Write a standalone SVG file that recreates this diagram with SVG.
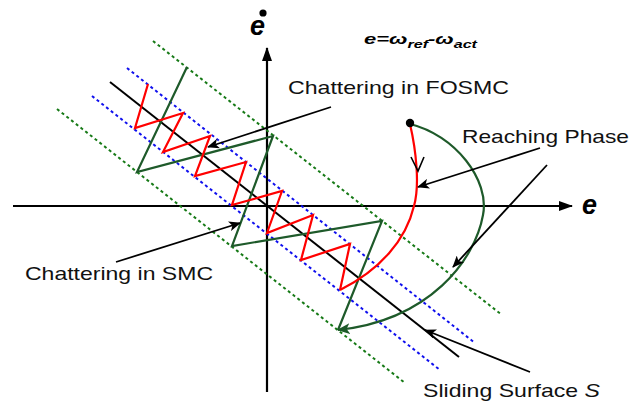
<svg xmlns="http://www.w3.org/2000/svg" width="630" height="403" viewBox="0 0 630 403">
<defs>
<marker id="ah" viewBox="0 0 12 10" refX="11" refY="5" markerWidth="12" markerHeight="10" markerUnits="userSpaceOnUse" orient="auto"><path d="M0,0 L12,5 L0,10 L3,5 Z" fill="#000"/></marker>
<marker id="axh" viewBox="0 0 14 10" refX="13" refY="5" markerWidth="14" markerHeight="10" markerUnits="userSpaceOnUse" orient="auto"><path d="M0,0 L14,5 L0,10 Z" fill="#000"/></marker>
<marker id="gh" viewBox="0 0 12 10" refX="11" refY="5" markerWidth="13" markerHeight="11" markerUnits="userSpaceOnUse" orient="auto"><path d="M0,0 L12,5 L0,10 L3,5 Z" fill="#1e5a2a"/></marker>
</defs>
<style>
.lbl{font-family:"Liberation Sans",Arial,sans-serif;font-size:19px;fill:#111}
.bi{font-family:"Liberation Sans",Arial,sans-serif;font-weight:bold;font-style:italic;fill:#000}
.gd{stroke:#177a17;stroke-width:2;stroke-dasharray:3 3;fill:none}
.bd{stroke:#1010ee;stroke-width:2;stroke-dasharray:3 3;fill:none}
.ax{stroke:#000;stroke-width:2.2;fill:none}
.ptr{stroke:#000;stroke-width:1.8;fill:none;marker-end:url(#ah)}
</style>
<g id="axes">
<line class="ax" x1="13" y1="206" x2="572" y2="206" marker-end="url(#axh)"/>
<line class="ax" x1="267" y1="392" x2="267" y2="48" marker-end="url(#axh)"/>
</g>
<g id="boundaries">
<line class="gd" x1="153" y1="41" x2="502" y2="315"/>
<line class="gd" x1="57" y1="109" x2="405" y2="383"/>
<line class="bd" x1="127" y1="68" x2="475" y2="343"/>
<line class="bd" x1="92" y1="96" x2="440" y2="370"/>
</g>
<g id="sliding-surface">
<line x1="110" y1="82" x2="459" y2="357" stroke="#000" stroke-width="2"/>
</g>
<g id="smc-chatter">
<polyline points="187,67 137,172 273,136 232,246 382,221 338,330" fill="none" stroke="#1e5a2a" stroke-width="2.2"/>
</g>
<g id="fosmc-chatter">
<polyline points="148,84 135,128 183,113 163,152 210,136 195,176 246,162 232,205 282,191 267,233 313,215 301,260 350,244 340,290" fill="none" stroke="#ff0000" stroke-width="2.2"/>
</g>
<g id="reaching">
<path d="M410,124 C416,150 420,185 414,206 C406,240 380,270 340,290" fill="none" stroke="#ff0000" stroke-width="2.2"/>
<path d="M410,124 C455,135 490,180 483,215 C475,260 430,320 338,330" fill="none" stroke="#1e5a2a" stroke-width="2.2" marker-end="url(#gh)"/>
<polyline points="411,157 418,171 424,157" fill="none" stroke="#000" stroke-width="1.6"/>
<circle cx="410" cy="123" r="4.2" fill="#000"/>
</g>
<g id="connectors">
<line class="ptr" x1="331" y1="107" x2="208" y2="147"/>
<line class="ptr" x1="540" y1="148" x2="418" y2="187"/>
<line class="ptr" x1="547" y1="165" x2="453" y2="267"/>
<line class="ptr" x1="116" y1="262" x2="240" y2="223"/>
<line class="ptr" x1="530" y1="372" x2="425" y2="330"/>
</g>
<g id="labels">
<text class="lbl" x="288" y="94" textLength="221" lengthAdjust="spacingAndGlyphs">Chattering in FOSMC</text>
<text class="lbl" x="462" y="143" textLength="167" lengthAdjust="spacingAndGlyphs">Reaching Phase</text>
<text class="lbl" x="25" y="280" textLength="188" lengthAdjust="spacingAndGlyphs">Chattering in SMC</text>
<text class="lbl" x="423" y="397" textLength="177" lengthAdjust="spacingAndGlyphs">Sliding Surface <tspan font-style="italic">S</tspan></text>
<text class="bi" x="364" y="44" font-size="15" textLength="113" lengthAdjust="spacingAndGlyphs">e=ω<tspan font-size="11" dy="4">ref</tspan><tspan dy="-4">-ω</tspan><tspan font-size="11" dy="4">act</tspan></text>
<text class="bi" x="582" y="214" font-size="27">e</text>
<g id="edot">
<text class="bi" x="250" y="35" font-size="27">e</text>
<circle cx="263" cy="13" r="3.6" fill="#000"/>
</g>
</g>
</svg>
